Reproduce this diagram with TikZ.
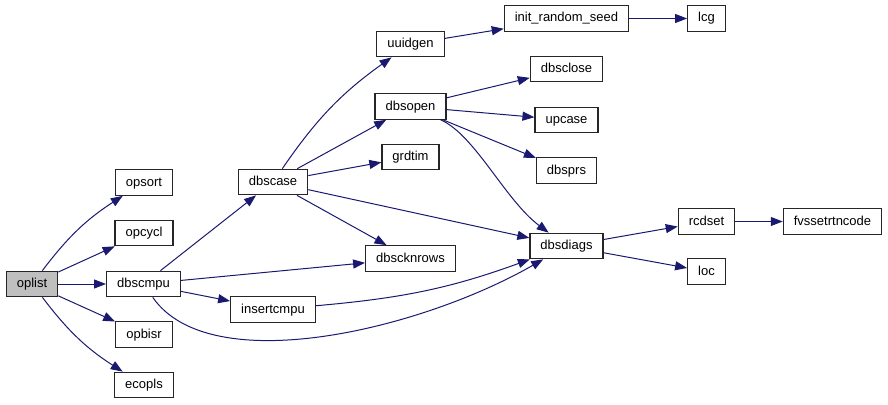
\documentclass[tikz,border=0pt]{standalone}
\usepackage{fontspec}
\setmainfont{Liberation Sans}
\usepackage{tikz}
\usetikzlibrary{arrows.meta}
\usepackage{xcolor}
\definecolor{edgeblue}{HTML}{191970}
\definecolor{rootgray}{HTML}{BFBFBF}

\begin{document}
\begin{tikzpicture}[x=1pt, y=1pt,
    func/.style={draw=black!85, line width=1.2pt, fill=white, rectangle, inner xsep=10.5pt, inner ysep=0pt,
                 minimum height=25.5pt, text height=9.5pt, text depth=2.5pt, font=\fontsize{13}{15}\selectfont},
    root/.style={func, fill=rootgray},
    call/.style={draw=edgeblue, line width=1pt, -{Triangle[length=12pt, width=9pt]}}]

        \useasboundingbox (0,0) rectangle (888,-404);

        % Caller and first level
        \node[root] (oplist) at (32,-284) {oplist};
        \node[func] (opsort) at (144,-182.5) {opsort};
        \node[func] (opcycl) at (144,-233) {opcycl};
        \node[func] (dbscmpu) at (143.5,-284) {dbscmpu};
        \node[func] (opbisr) at (144,-334.5) {opbisr};
        \node[func] (ecopls) at (144,-385) {ecopls};

        % Second level
        \node[func] (dbscase) at (273,-182) {dbscase};
        \node[func] (insertcmpu) at (273,-309.5) {insertcmpu};

        % Third level
        \node[func] (uuidgen) at (410.5,-44) {uuidgen};
        \node[func] (dbsopen) at (410.5,-106.5) {dbsopen};
        \node[func] (grdtim) at (410.5,-157) {grdtim};
        \node[func] (dbscknrows) at (410.5,-258.5) {dbscknrows};

        % Fourth level
        \node[func] (initseed) at (566.5,-18.5) {init\_random\_seed};
        \node[func] (dbsclose) at (566.5,-69) {dbsclose};
        \node[func] (upcase) at (566.5,-120) {upcase};
        \node[func] (dbsprs) at (566.5,-170.5) {dbsprs};
        \node[func] (dbsdiags) at (566.5,-246) {dbsdiags};

        % Last levels
        \node[func] (lcg) at (706.5,-18.5) {lcg};
        \node[func] (rcdset) at (706.5,-221.5) {rcdset};
        \node[func] (loc) at (706.5,-271.5) {loc};
        \node[func] (fvsset) at (832.5,-221.5) {fvssetrtncode};

        % Calls from oplist
        \draw[call] (oplist) to[bend left=10] (opsort);
        \draw[call] (oplist) -- (opcycl);
        \draw[call] (oplist) -- (dbscmpu);
        \draw[call] (oplist) -- (opbisr);
        \draw[call] (oplist) to[bend right=10] (ecopls);

        % Calls from dbscmpu
        \draw[call] (dbscmpu) -- (dbscase);
        \draw[call] (dbscmpu) -- (dbscknrows);
        \draw[call] (dbscmpu) -- (insertcmpu);
        \draw[call] (dbscmpu) .. controls (210,-380) and (420,-330) .. (dbsdiags);
        \draw[call] (insertcmpu) to[out=5, in=200] (dbsdiags);

        % Calls from dbscase
        \draw[call] (dbscase) to[bend left=10] (uuidgen);
        \draw[call] (dbscase) -- (dbsopen);
        \draw[call] (dbscase) -- (grdtim);
        \draw[call] (dbscase) -- (dbscknrows);
        \draw[call] (dbscase) -- (dbsdiags);

        % Calls from uuidgen and dbsopen
        \draw[call] (uuidgen) -- (initseed);
        \draw[call] (initseed) -- (lcg);
        \draw[call] (dbsopen) -- (dbsclose);
        \draw[call] (dbsopen) -- (upcase);
        \draw[call] (dbsopen) -- (dbsprs);
        \draw[call] (dbsopen) .. controls (475,-135) and (505,-200) .. (dbsdiags);

        % Calls from dbsdiags
        \draw[call] (dbsdiags) -- (rcdset);
        \draw[call] (dbsdiags) -- (loc);
        \draw[call] (rcdset) -- (fvsset);

    \end{tikzpicture}
\end{document}
